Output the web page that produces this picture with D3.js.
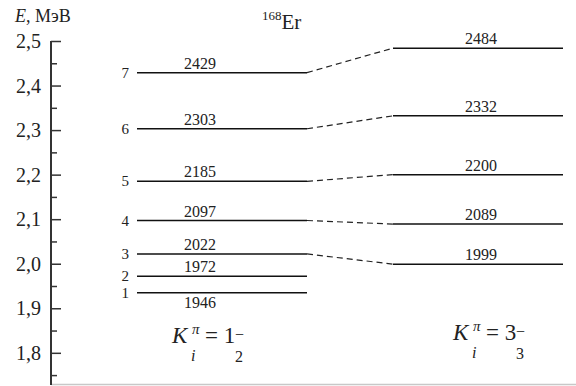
<!DOCTYPE html>
<html><head><meta charset="utf-8">
<script src="https://cdn.jsdelivr.net/npm/d3@7"></script>
</head><body><svg id="c" width="576" height="386"></svg>
<script>
// Data
const levelNumbers = [1, 2, 3, 4, 5, 6, 7];
const leftLabels = ["1946", "1972", "2022", "2097", "2185", "2303", "2429"];
const leftEnergy = [1.935, 1.972, 2.022, 2.097, 2.185, 2.303, 2.429]; // MeV (level 1 drawn as in picture)
const rightLabels = ["1999", "2089", "2200", "2332", "2484"];
const rightEnergy = [1.999, 2.089, 2.200, 2.332, 2.484];
const connectLeft = [2, 3, 4, 5, 6]; // indices of left levels joined to right levels
const majorTicks = [1.8, 1.9, 2.0, 2.1, 2.2, 2.3, 2.4, 2.5];
const minorTicks = [1.75, 1.85, 1.95, 2.05, 2.15, 2.25, 2.35, 2.45];

d3.select("body").style("margin", "0").style("background", "#fff");
const svg = d3.select("#c").style("display", "block").style("font-family", '"Liberation Serif"');
const y = d3.scaleLinear().domain([1.73, 2.5]).range([384, 41]);
const axisX = 51;
const L = {x0: 137, x1: 307, lab: 200};
const R = {x0: 393, x1: 563, lab: 481};
const fmt = d => d3.format(".1f")(d).replace(".", ",");
const txt = (sel) => sel.append("text").style("font-family", '"Liberation Serif"').attr("fill", "#222");

// bottom grey line
svg.append("line").attr("x1", axisX).attr("x2", 576).attr("y1", 384.5).attr("y2", 384.5)
  .attr("stroke", "#c8c8c8").attr("stroke-width", 1.5);

// y axis ticks
const gAx = svg.append("g").attr("transform", `translate(${axisX},0)`);
gAx.call(d3.axisRight(y).tickValues(majorTicks).tickSize(10).tickFormat(""));
gAx.select(".domain").remove();
gAx.selectAll(".tick line").attr("stroke", "#333").attr("stroke-width", 1.5);
const gMin = svg.append("g").attr("transform", `translate(${axisX},0)`);
gMin.call(d3.axisRight(y).tickValues(minorTicks).tickSize(6).tickFormat(""));
gMin.select(".domain").remove();
gMin.selectAll(".tick line").attr("stroke", "#333").attr("stroke-width", 1.5);
svg.append("line").attr("x1", axisX).attr("x2", axisX).attr("y1", y(2.5)).attr("y2", 385)
  .attr("stroke", "#333").attr("stroke-width", 2);
majorTicks.forEach(d => {
  txt(svg).attr("x", 41).attr("y", y(d) + 7).attr("text-anchor", "end")
    .attr("font-size", 20).text(fmt(d));
});

// axis title
const t = txt(svg).attr("x", 15).attr("y", 22).attr("font-size", 18);
t.append("tspan").attr("font-style", "italic").text("E");
t.append("tspan").text(", МэВ");

// nucleus title
const t2 = txt(svg).attr("x", 262).attr("y", 29).attr("font-size", 21);
t2.append("tspan").attr("font-size", 13).attr("dy", -9).text("168");
t2.append("tspan").attr("dy", 9).text("Er");

// left levels
svg.selectAll("line.ll").data(leftEnergy).join("line").attr("class", "ll")
  .attr("x1", L.x0).attr("x2", L.x1).attr("y1", d => y(d)).attr("y2", d => y(d))
  .attr("stroke", "#111").attr("stroke-width", 1.5);
leftEnergy.forEach((d, i) => {
  txt(svg).attr("x", 129).attr("y", y(d) + 5).attr("text-anchor", "end")
    .attr("font-size", 15).text(levelNumbers[i]);
  txt(svg).attr("x", L.lab).attr("y", i === 0 ? y(d) + 15 : y(d) - 4)
    .attr("text-anchor", "middle").attr("font-size", 16).text(leftLabels[i]);
});

// right levels
svg.selectAll("line.rl").data(rightEnergy).join("line").attr("class", "rl")
  .attr("x1", R.x0).attr("x2", R.x1).attr("y1", d => y(d)).attr("y2", d => y(d))
  .attr("stroke", "#111").attr("stroke-width", 1.5);
rightEnergy.forEach((d, i) => {
  txt(svg).attr("x", R.lab).attr("y", y(d) - 4)
    .attr("text-anchor", "middle").attr("font-size", 16).text(rightLabels[i]);
});

// connectors
svg.selectAll("line.cn").data(rightEnergy).join("line").attr("class", "cn")
  .attr("x1", L.x1).attr("x2", R.x0)
  .attr("y1", (d, i) => y(leftEnergy[connectLeft[i]])).attr("y2", d => y(d))
  .attr("stroke", "#222").attr("stroke-width", 1.2).attr("stroke-dasharray", "6,4");

// K labels
function kLabel(x0, base, main, sub) {
  const g = svg.append("g").attr("transform", `translate(${x0},${base})`);
  txt(g).attr("x", 0).attr("y", 0).attr("font-size", 23).attr("font-style", "italic").text("K");
  txt(g).attr("x", 20).attr("y", -9).attr("font-size", 15).attr("font-style", "italic").text("π");
  txt(g).attr("x", 19).attr("y", 18).attr("font-size", 16).attr("font-style", "italic").text("i");
  txt(g).attr("x", 33).attr("y", 0).attr("font-size", 23).text("= " + main);
  txt(g).attr("x", 63).attr("y", 19).attr("font-size", 16).text(sub);
  txt(g).attr("x", 63).attr("y", -3).attr("font-size", 16).text("−");
}
kLabel(172, 343, "1", "2");
kLabel(453, 340, "3", "3");
</script></body></html>
